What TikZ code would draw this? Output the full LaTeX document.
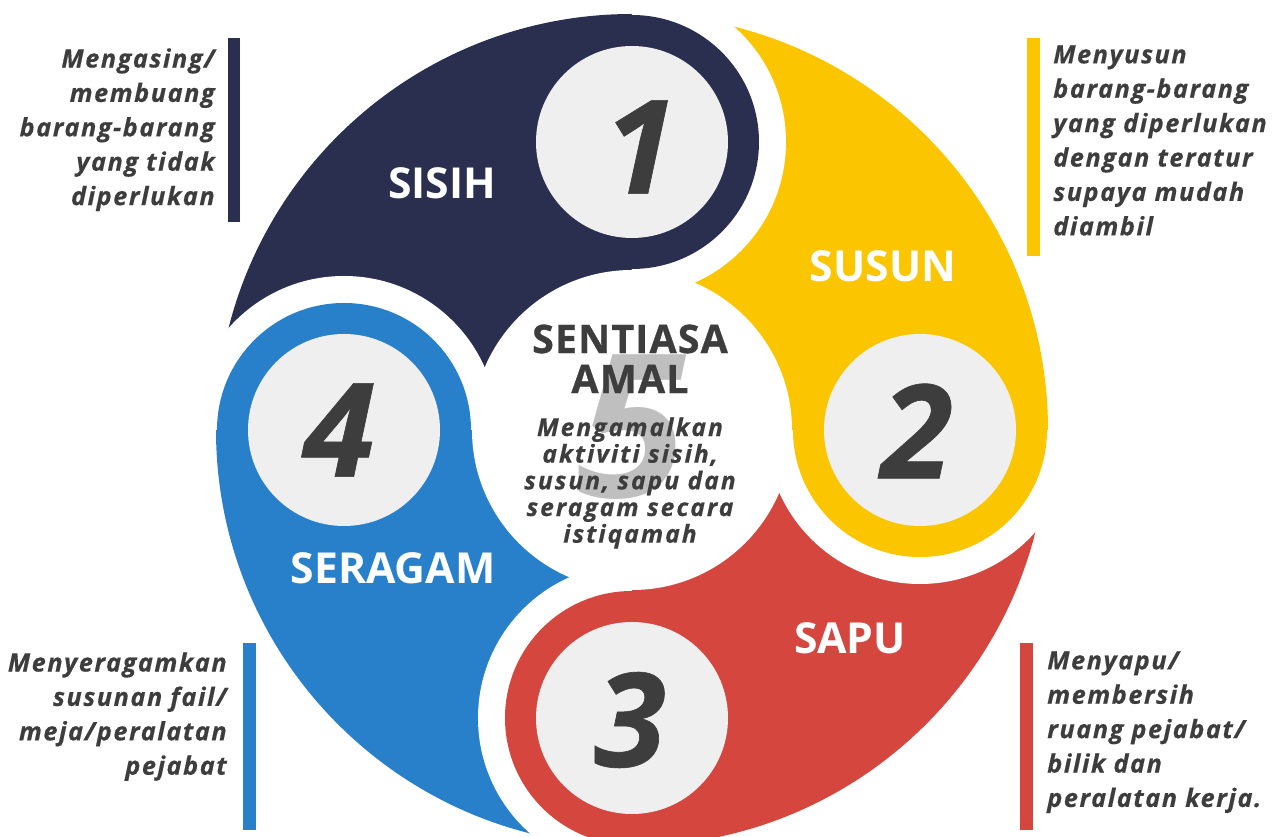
\documentclass[tikz,border=0pt]{standalone}
\usepackage{fontspec}
\setmainfont{Open Sans}
\definecolor{cnavy}{HTML}{2A2F50}
\definecolor{cyellow}{HTML}{FBC600}
\definecolor{cred}{HTML}{D5463F}
\definecolor{cblue}{HTML}{2880CB}
\definecolor{cgray}{HTML}{EFEFEF}
\definecolor{ctext}{HTML}{3D3D3D}
\definecolor{cfive}{HTML}{BFBFBF}
\tikzset{
  label/.style={text=white,font=\fontsize{32}{34}\selectfont\bfseries,inner sep=0pt},
  digit/.style={text=ctext,font=\fontsize{98}{100}\selectfont\bfseries\itshape\addfontfeature{FakeBold=0.5},inner sep=0pt},
  side/.style={text=ctext,inner sep=0pt,font=\fontsize{19}{25.8}\selectfont\bfseries\itshape\addfontfeature{LetterSpace=6,FakeBold=0.4}},
  head/.style={text=ctext,inner sep=0pt,font=\fontsize{29.5}{30}\selectfont\bfseries\addfontfeature{LetterSpace=3,FakeBold=0.8}},
}
\begin{document}
\begin{tikzpicture}[x=0.75pt,y=0.75pt]
\useasboundingbox (-632,-407) rectangle (647,430);
% sectors
\begin{scope}
\clip (0,0) circle (416);
\foreach \a/\c in {90/cnavy,0/cyellow,-90/cred,180/cblue}{
  \fill[\c] (0,0) -- (\a:600) -- (\a+45:850) -- (\a+90:600) -- cycle;
}
\end{scope}
% gaps and rings
\foreach \a/\c in {90/cnavy,0/cyellow,-90/cred,180/cblue}{
  \begin{scope}
  \clip (0,0) -- (\a:700) -- (\a-45:990) -- (\a-90:700) -- cycle;
  \fill[white] (\a:288) circle (154);
  \end{scope}
  \fill[\c] (\a:288) circle (127);
}
% centre disk
\fill[white] (0,0) circle (160);
% number disks
\foreach \a in {90,0,-90,180}{
  \fill[cgray] (\a:288) circle (96);
}
% digits
\node[digit] (d1) at (8,283) {1};
\node[digit] (d2) at (285,-1) {2};
\node[digit] (d3) at (-2,-290) {3};
\node[digit] (d4) at (-293,0) {4};
% labels
\node[label] (l1) at (-190,247) {SISIH};
\node[label] (l2) at (251,164) {SUSUN};
\node[label] (l3) at (-239,-138) {SERAGAM};
\node[label] (l4) at (218,-208) {SAPU};
% centre
\node[text=cfive,font=\fontsize{150}{150}\selectfont\bfseries\itshape,inner sep=0pt] (five) at (0,3) {5};
\node[head] (sent) at (-2,91) {SENTIASA};
\node[head] (amal) at (-2,51) {AMAL};
\node[text=ctext,inner sep=0pt,anchor=north,align=center,font=\fontsize{18.5}{20}\selectfont\bfseries\itshape\addfontfeature{LetterSpace=8,FakeBold=0.4}] (ctxt) at (-2,13)
  {Mengamalkan\\aktiviti sisih,\\susun, sapu dan\\seragam secara\\istiqamah};
% bars
\fill[cnavy] (-404,392) rectangle (-392,208);
\fill[cyellow] (395,392) rectangle (408,174);
\fill[cblue] (-389,-213) rectangle (-376,-400);
\fill[cred] (388,-213) rectangle (401,-400);
% side texts
\node[side,anchor=north east,align=right] (t1) at (-417,382)
  {Mengasing/\\membuang\\barang-barang\\yang tidak\\diperlukan};
\node[side,anchor=north west,align=left] (t2) at (421,385)
  {Menyusun\\barang-barang\\yang diperlukan\\dengan teratur\\supaya mudah\\diambil};
\node[side,anchor=north east,align=right] (t4) at (-405,-222)
  {Menyeragamkan\\susunan fail/\\meja/peralatan\\pejabat};
\node[side,anchor=north west,align=left] (t3) at (415,-221)
  {Menyapu/\\membersih\\ruang pejabat/\\bilik dan\\peralatan kerja.};
\end{tikzpicture}
\end{document}
